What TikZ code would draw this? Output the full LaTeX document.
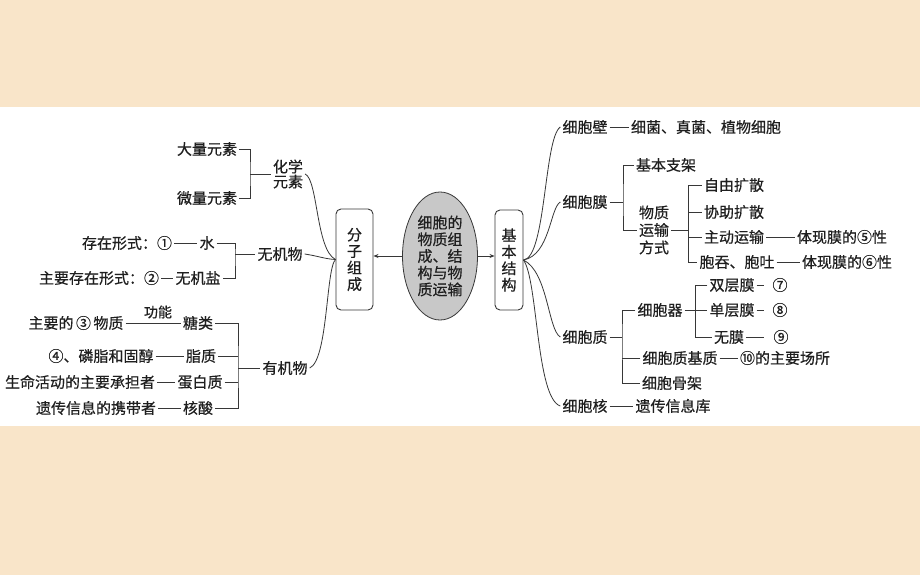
\documentclass[tikz,border=0pt]{standalone}
\usepackage{fontspec}
\setmainfont{Noto Sans CJK SC}[FakeBold=0.5]
\usetikzlibrary{arrows.meta,shapes.geometric}
\definecolor{fundo}{RGB}{249,229,201}
\definecolor{elipse}{RGB}{200,200,200}
\definecolor{traco}{RGB}{55,55,55}

\begin{document}
\begin{tikzpicture}[x=1pt,y=-1pt,
    txt/.style={inner sep=2pt,text=black!88,font=\fontsize{15}{16.5}\selectfont},
    caixa/.style={txt,draw=traco,rounded corners=5pt,line width=0.9pt,align=center,inner sep=0pt},
    liga/.style={draw=traco,line width=0.8pt},
    seta/.style={liga,-{Stealth[length=5pt,width=4pt]}}]

        % fundo
        \fill[fundo] (0,0) rectangle (920,575);
        \fill[white] (0,107) rectangle (920,426);
        \useasboundingbox (0,0) rectangle (920,575);

        % centro
        \node[txt,ellipse,draw=traco,fill=elipse,line width=0.8pt,minimum width=75,minimum height=128,inner sep=0pt,align=center,font=\fontsize{15}{16.7}\selectfont] (cell) at (440,256) {细胞的\\物质组\\成、结\\构与物\\质运输};
        \node[caixa,minimum width=37,minimum height=101] (fzzc) at (354.5,259.5) {分\\子\\组\\成};
        \node[caixa,minimum width=28,minimum height=100] (jbjg) at (509,260) {基\\本\\结\\构};
        \draw[seta] (cell.west) -- (cell.west -| fzzc.east);
        \draw[seta] (cell.east) -- (cell.east -| jbjg.west);

        % lado esquerdo
        \node[txt] (dl) at (207,149) {大量元素};
        \node[txt] (wl) at (207,198) {微量元素};
        \node[txt,align=center,font=\fontsize{15}{15}\selectfont] (hx) at (288,174) {化学\\元素};
        \coordinate (b1) at (250,174);
        \draw[liga] (dl.east) -| (b1) |- (wl.east);
        \draw[liga] (b1) -- (hx.west);

        \node[txt] (czxs) at (127,243) {存在形式：①};
        \node[txt] (shui) at (207,243) {水};
        \node[txt] (zycz) at (99,278) {主要存在形式：②};
        \node[txt] (wjy) at (198,278) {无机盐};
        \node[txt] (wjw) at (280,254) {无机物};
        \coordinate (b2) at (235,254);
        \draw[liga] (czxs.east) -- (shui.west);
        \draw[liga] (zycz.east) -- (wjy.west);
        \draw[liga] (shui.east) -| (b2) |- (wjy.east);
        \draw[liga] (b2) -- (wjw.west);

        \node[txt] (zyd) at (76,323) {主要的\,③\,物质};
        \node[txt] (tl) at (198,323) {糖类};
        \node[txt,font=\fontsize{14}{15}\selectfont] (gn) at (158,312) {功能};
        \node[txt] (lz) at (101,356) {④、磷脂和固醇};
        \node[txt] (zz) at (201,356) {脂质};
        \node[txt] (smhd) at (80,382) {生命活动的主要承担者};
        \node[txt] (dbz) at (200,382) {蛋白质};
        \node[txt] (ycxx) at (96,408) {遗传信息的携带者};
        \node[txt] (hs) at (198,408) {核酸};
        \node[txt] (yjw) at (285,368) {有机物};
        \coordinate (b3) at (238,368);
        \draw[liga] (zyd.east) -- (tl.west);
        \draw[liga] (lz.east) -- (zz.west);
        \draw[liga] (smhd.east) -- (dbz.west);
        \draw[liga] (ycxx.east) -- (hs.west);
        \draw[liga] (tl.east) -| (b3) |- (hs.east);
        \draw[liga] (zz.east) -- (zz.east -| b3);
        \draw[liga] (dbz.east) -- (dbz.east -| b3);
        \draw[liga] (b3) -- (yjw.west);

        \draw[liga] (hx.east) .. controls (318,180) and (316,250) .. (fzzc.west);
        \draw[liga] (wjw.east) .. controls (318,256) and (325,259) .. (fzzc.west);
        \draw[liga] (yjw.east) .. controls (328,360) and (326,268) .. (fzzc.west);

        % lado direito
        \node[txt] (xbb) at (585,127) {细胞壁};
        \node[txt] (xjzj) at (706,127) {细菌、真菌、植物细胞};
        \draw[liga] (xbb.east) -- (xjzj.west);

        \node[txt] (xbm) at (585,202) {细胞膜};
        \node[txt] (jbzj) at (666,165) {基本支架};
        \node[txt,align=center,font=\fontsize{15}{17.5}\selectfont] (wzys) at (654,230) {物质\\运输\\方式};
        \coordinate (b4) at (623,202);
        \draw[liga] (xbm.east) -- (b4);
        \draw[liga] (jbzj.west) -| (b4) |- (wzys.west);

        \node[txt] (zyks) at (734,185) {自由扩散};
        \node[txt] (xzks) at (734,212) {协助扩散};
        \node[txt] (zdys) at (734,237) {主动运输};
        \node[txt] (ttbt) at (737,262) {胞吞、胞吐};
        \node[txt] (txm5) at (842,237) {体现膜的⑤性};
        \node[txt] (txm6) at (847,262) {体现膜的⑥性};
        \coordinate (b5) at (688,230);
        \draw[liga] (wzys.east) -- (b5);
        \draw[liga] (zyks.west) -| (b5) |- (ttbt.west);
        \draw[liga] (xzks.west) -- (xzks.west -| b5);
        \draw[liga] (zdys.west) -- (zdys.west -| b5);
        \draw[liga] (zdys.east) -- (txm5.west);
        \draw[liga] (ttbt.east) -- (txm6.west);

        \node[txt] (xbz) at (585,337) {细胞质};
        \node[txt] (xbq) at (660,310) {细胞器};
        \node[txt] (xbzjz) at (680,358) {细胞质基质};
        \node[txt] (xbgj) at (672,383) {细胞骨架};
        \node[txt] (n10) at (785,358) {⑩的主要场所};
        \coordinate (b6) at (622,337);
        \draw[liga] (xbz.east) -- (b6);
        \draw[liga] (xbq.west) -| (b6) |- (xbgj.west);
        \draw[liga] (xbzjz.west) -- (xbzjz.west -| b6);
        \draw[liga] (xbzjz.east) -- (n10.west);

        \node[txt] (scm) at (732,285) {双层膜};
        \node[txt] (dcm) at (732,310) {单层膜};
        \node[txt] (wm) at (729,337) {无膜};
        \node[txt] (n7) at (780,285) {⑦};
        \node[txt] (n8) at (780,310) {⑧};
        \node[txt] (n9) at (781,337) {⑨};
        \coordinate (b7) at (695,310);
        \draw[liga] (xbq.east) -- (dcm.west);
        \draw[liga] (scm.west) -| (b7) |- (wm.west);
        \draw[liga,shorten >=6pt] (scm.east) -- (n7.west);
        \draw[liga,shorten >=6pt] (dcm.east) -- (n8.west);
        \draw[liga,shorten >=7pt] (wm.east) -- (n9.west);

        \node[txt] (xbh) at (585,406) {细胞核};
        \node[txt] (ycxxk) at (673,406) {遗传信息库};
        \draw[liga] (xbh.east) -- (ycxxk.west);

        \draw[liga] (jbjg.east) .. controls (546,258) and (544,138) .. (xbb.west);
        \draw[liga] (jbjg.east) .. controls (550,255) and (550,208) .. (xbm.west);
        \draw[liga] (jbjg.east) .. controls (548,272) and (548,330) .. (xbz.west);
        \draw[liga] (jbjg.east) .. controls (538,280) and (536,398) .. (xbh.west);

    \end{tikzpicture}
\end{document}
